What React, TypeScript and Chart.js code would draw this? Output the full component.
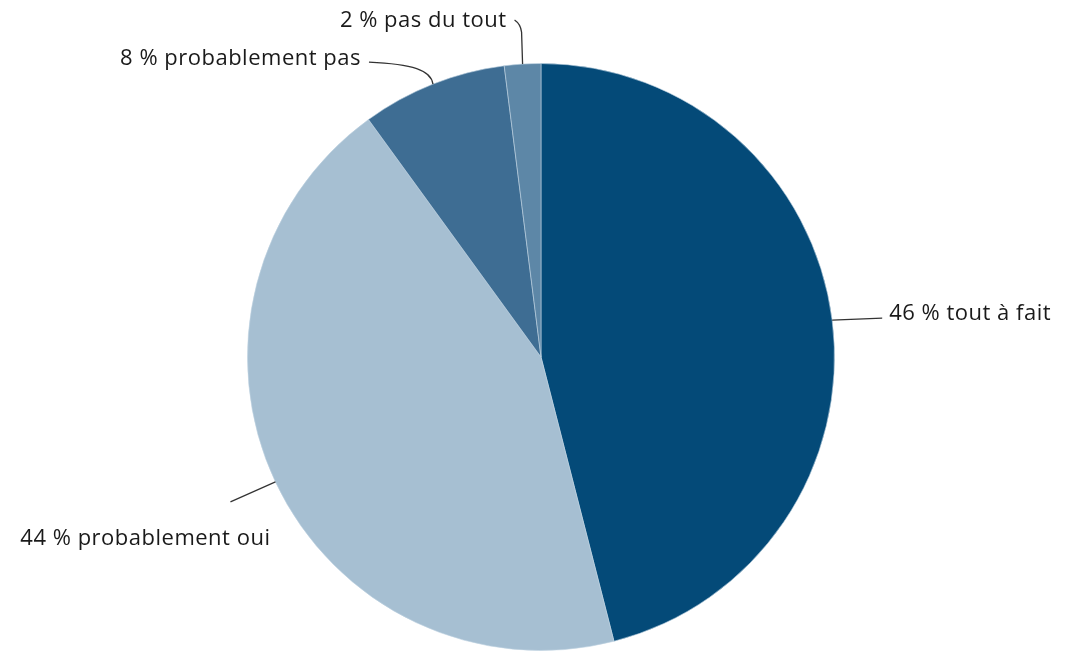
import React, { useEffect, useRef } from "react";
import { Chart, registerables } from "chart.js";

Chart.register(...registerables);

const categories = ["tout à fait", "probablement oui", "probablement pas", "pas du tout"];
const values = [46, 44, 8, 2];
const labelTexts = ["46 % tout à fait", "44 % probablement oui", "8 % probablement pas", "2 % pas du tout"];
const colors = ["#044a78", "#a6bfd2", "#3e6d93", "#5d87a7"];

const FONT = '22px "Open Sans", sans-serif';

const leaderPlugin = {
  id: "leaders",
  afterDatasetsDraw(chart: any) {
    const ctx = chart.ctx;
    const meta = chart.getDatasetMeta(0);
    ctx.save();
    ctx.font = FONT;
    try {
      (ctx as any).letterSpacing = "0.5px";
    } catch (e) {}
    ctx.fillStyle = "#1a1a1a";
    ctx.strokeStyle = "#333333";
    ctx.lineWidth = 1.3;
    ctx.textBaseline = "middle";
    meta.data.forEach((arc: any, i: number) => {
      const { x, y, startAngle, endAngle, outerRadius } = arc.getProps(
        ["x", "y", "startAngle", "endAngle", "outerRadius"],
        true
      );
      const mid = (startAngle + endAngle) / 2;
      const ex = x + Math.cos(mid) * outerRadius;
      const ey = y + Math.sin(mid) * outerRadius;
      ctx.beginPath();
      ctx.moveTo(ex, ey);
      const t = labelTexts[i];
      if (i === 0) {
        ctx.lineTo(ex + 50, ey - 2);
        ctx.stroke();
        ctx.textAlign = "left";
        ctx.fillText(t, ex + 57, ey - 6);
      } else if (i === 1) {
        ctx.lineTo(ex - 45, ey + 20);
        ctx.stroke();
        ctx.textAlign = "right";
        ctx.fillText(t, ex - 5, ey + 57);
      } else if (i === 2) {
        ctx.bezierCurveTo(ex - 2, ey - 14, ex - 20, ey - 20, ex - 64, ey - 22);
        ctx.stroke();
        ctx.textAlign = "right";
        ctx.fillText(t, ex - 72, ey - 25);
      } else {
        ctx.lineTo(ex - 1, ey - 32);
        ctx.quadraticCurveTo(ex - 2, ey - 40, ex - 8, ey - 44);
        ctx.stroke();
        ctx.textAlign = "right";
        ctx.fillText(t, ex - 16, ey - 43);
      }
    });
    ctx.restore();
  },
};

export default function App() {
  const ref = useRef<HTMLCanvasElement>(null);
  useEffect(() => {
    document.body.style.margin = "0";
    const chart = new Chart(ref.current!, {
      type: "pie",
      data: {
        labels: categories,
        datasets: [
          {
            data: values,
            backgroundColor: colors,
            borderColor: "rgba(190,210,225,0.6)",
            borderWidth: 1,
          },
        ],
      },
      options: {
        responsive: false,
        animation: false,
        layout: { padding: { top: 63, bottom: 1, left: 247, right: 236 } },
        plugins: { legend: { display: false }, tooltip: { enabled: false } },
      },
      plugins: [leaderPlugin],
    });
    return () => chart.destroy();
  }, []);
  return (
    <div style={{ width: 1071, height: 652, background: "#fff" }}>
      <canvas ref={ref} width={1071} height={652} />
    </div>
  );
}
